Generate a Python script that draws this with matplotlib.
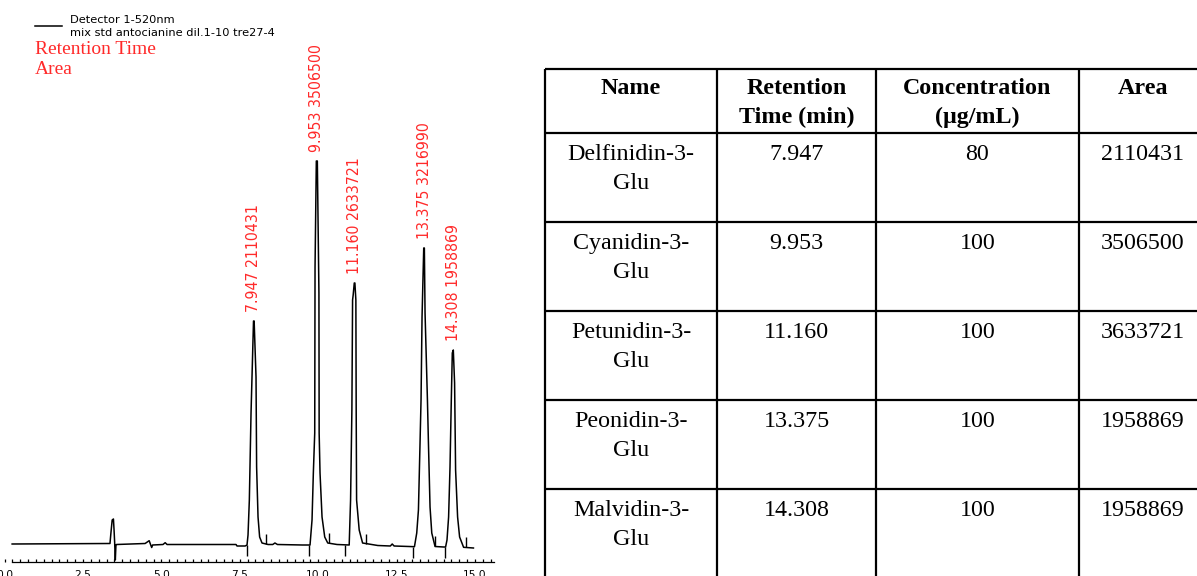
import numpy as np
import matplotlib
matplotlib.use("Agg")
import matplotlib.pyplot as plt
from matplotlib import font_manager
from matplotlib.ticker import FixedLocator

# --- chromatogram trace (time in min, signal) ---
trace_time = [0.24, 3.36, 3.39, 3.43, 3.47, 3.49, 3.51, 3.53, 3.55, 3.57,
              4.48, 4.61, 4.66, 4.69, 4.72, 5.05, 5.12, 5.18, 7.38, 7.41, 7.67,
              7.730, 7.762, 7.804, 7.858, 7.937, 7.957, 8.017, 8.036, 8.081, 8.132, 8.208,
              8.40, 8.55, 8.62, 8.70, 9.50,
              9.739, 9.803, 9.845, 9.889, 9.899, 9.940, 9.972, 10.023, 10.030, 10.058,
              10.122, 10.208, 10.304,
              10.60,
              10.988, 11.032, 11.074, 11.096, 11.115, 11.150, 11.170, 11.201, 11.211,
              11.224, 11.307, 11.415,
              11.90, 12.30, 12.36, 12.42, 12.90,
              13.069, 13.142, 13.196, 13.247, 13.279, 13.311, 13.365, 13.385, 13.407,
              13.483, 13.515, 13.566, 13.621, 13.726,
              14.00,
              14.062, 14.107, 14.158, 14.203, 14.244, 14.276, 14.308, 14.349, 14.381,
              14.445, 14.509, 14.636,
              14.95]
trace_signal = [1, 1.5, 12, 25, 26, 15, 2, -15, 0, 0.5,
                1.5, 4.3, 0, -2.5, 0, 0.5, 2.3, 0.5, 0.5, -1, -1,
                0, 10, 45, 132, 224, 224, 168, 78, 28, 8, 2,
                0.5, 0.5, 2, 0.5, 0,
                0, 25, 72, 112, 278, 384, 384, 252, 112, 72,
                28, 8, 2,
                0.5,
                0, 45, 135, 245, 250, 262, 262, 245, 135,
                45, 15, 2,
                -0.5, -1, 1, -1, -1.5,
                -1.7, 12, 35, 102, 145, 228, 297, 297, 232,
                145, 102, 38, 12, -1.5,
                -2,
                -2, 5, 28, 78, 145, 192, 195, 162, 75,
                28, 8, -2.3,
                -3]

# integration marks (peak start / peak end)
start_marks = [7.720, 9.716, 10.855, 13.033, 14.043]
end_marks = [8.326, 10.344, 11.524, 13.724, 14.703]

# peak labels
peak_rt = [7.947, 9.953, 11.160, 13.375, 14.308]
peak_area = [2110431, 3506500, 2633721, 3216990, 1958869]

# --- table ---
tbl_header = ["Name", "Retention\nTime (min)", "Concentration\n(\u00b5g/mL)", "Area"]
tbl_names = ["Delfinidin-3-Glu", "Cyanidin-3-Glu", "Petunidin-3-Glu",
             "Peonidin-3-Glu", "Malvidin-3-Glu"]
tbl_rt = ["7.947", "9.953", "11.160", "13.375", "14.308"]
tbl_conc = ["80", "100", "100", "100", "100"]
tbl_area = ["2110431", "3506500", "3633721", "1958869", "1958869"]

W, H = 1197, 576
RED = "#ff2a2a"

# narrow font for the peak labels if one is installed
fonts = font_manager.fontManager.ttflist
label_font = dict(family="DejaVu Sans", fontsize=10)
if any(f.name == "Liberation Sans Narrow" for f in fonts):
    label_font = dict(family="Liberation Sans Narrow", fontsize=14)
elif any(f.name == "DejaVu Sans" and f.stretch == "condensed" for f in fonts):
    label_font = dict(family="DejaVu Sans", fontstretch="condensed", fontsize=11.3)

fig = plt.figure(figsize=(W / 100, H / 100), dpi=100)
ax = fig.add_axes([0, 14 / H, 500 / W, 562 / H])
ax.plot(trace_time, trace_signal, color="black", lw=1.1,
        label="Detector 1-520nm\nmix std antocianine dil.1-10 tre27-4")

base_s = np.interp(start_marks, trace_time, trace_signal)
base_e = np.interp(end_marks, trace_time, trace_signal)
ax.vlines(start_marks, base_s - 11, base_s, color="black", lw=1)
ax.vlines(end_marks, base_e, base_e + 10, color="black", lw=1)

t = np.array(trace_time)
s = np.array(trace_signal)
for rt, area in zip(peak_rt, peak_area):
    top = s[np.abs(t - rt) < 0.06].max()
    ax.annotate(f"{rt:.3f} {area}", xy=(rt, top), xytext=(0, 6.5),
                textcoords="offset points", rotation=90, ha="center",
                va="bottom", color=RED, **label_font)

ax.set_xlim(-0.147, 15.797)
ax.set_ylim(-17, 545)
for side in ["top", "right", "left"]:
    ax.spines[side].set_visible(False)
ax.spines["bottom"].set_bounds(0.24, 15.6)
ax.spines["bottom"].set_linewidth(0.9)
ax.set_yticks([])
major = np.arange(0, 15.1, 2.5)
ax.set_xticks(major)
ax.set_xticklabels([f"{v:.1f}" for v in major])
ax.xaxis.set_minor_locator(FixedLocator(np.arange(0.25, 15.55, 0.25)))
ax.tick_params(axis="x", which="both", direction="in", length=2.3, width=0.9,
               pad=5.5, labelsize=7.7)
ax.patch.set_alpha(0)

leg = ax.legend(loc="upper left", bbox_to_anchor=(35 / W, 1 - 15 / H),
                bbox_transform=fig.transFigure, frameon=False, fontsize=8.2,
                handlelength=2.35, handletextpad=0.7, borderpad=0,
                borderaxespad=0, labelspacing=0)
for txt in leg.get_texts():
    txt.set_linespacing(1.35)
fig.text(35 / W, 1 - 54 / H, "Retention Time", color=RED,
         family="Liberation Serif", fontsize=14, va="baseline")
fig.text(35 / W, 1 - 74 / H, "Area", color=RED,
         family="Liberation Serif", fontsize=14, va="baseline")

# table drawn on a pixel-coordinate overlay
tx = fig.add_axes([0, 0, 1, 1])
tx.set_xlim(0, W)
tx.set_ylim(H, 0)
tx.axis("off")
tx.patch.set_alpha(0)

left = 545
col_w = [172, 159, 203, 128]
top = 69
head_h = 64
row_h = 89
edges = left + np.concatenate([[0], np.cumsum(col_w)])
centers = (edges[:-1] + edges[1:]) / 2
n = len(tbl_names)
row_edges = top + head_h + row_h * np.arange(n + 1)
bottom = row_edges[-1]

tx.vlines(edges, top, bottom, color="black", lw=1.6)
tx.hlines(np.concatenate([[top], row_edges]), left, edges[-1], color="black", lw=1.6)

for c, h in zip(centers, tbl_header):
    tx.text(c, top + 9, h, ha="center", va="top", family="Liberation Serif",
            weight="bold", fontsize=17.3, linespacing=1.5)

for i in range(n):
    y = row_edges[i] + 11
    cells = [tbl_names[i].replace("3-Glu", "3-\nGlu"), tbl_rt[i], tbl_conc[i], tbl_area[i]]
    for c, txt in zip(centers, cells):
        tx.text(c, y, txt, ha="center", va="top", family="Liberation Serif",
                fontsize=17.3, linespacing=1.5)

fig.savefig("out.png", dpi=100)
